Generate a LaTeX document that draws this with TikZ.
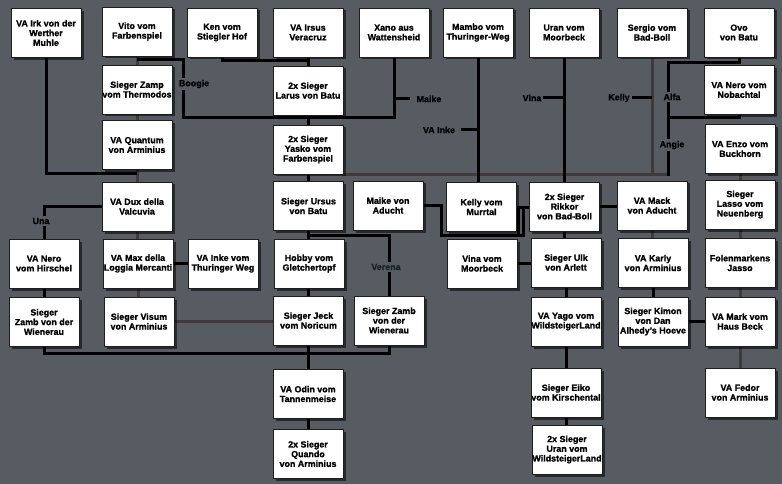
\documentclass[tikz,border=0pt]{standalone}
\usepackage{fontspec}
\setmainfont{Liberation Sans}[BoldFeatures={FakeBold=1.2}]
\usetikzlibrary{shadows}
\definecolor{bgc}{RGB}{87,92,98}
\definecolor{dimc}{RGB}{64,58,58}
\definecolor{boxedge}{RGB}{30,30,30}
\definecolor{verc}{RGB}{28,34,42}
\pgfdeclarelayer{bgl}
\pgfdeclarelayer{lines}
\pgfsetlayers{bgl,lines,main}
\tikzset{
  person/.style={draw=boxedge, line width=0.8pt, fill=white, minimum width=70pt,
    minimum height=49pt, inner sep=0pt, align=center,
    font=\fontsize{8.9}{9.7}\selectfont\bfseries,
    drop shadow={shadow xshift=2.5pt, shadow yshift=-2.5pt, fill=black, opacity=0.55}},
  link/.style={line width=3pt, black},
  dimlink/.style={line width=3pt, dimc},
  lbl/.style={fill=bgc, inner sep=1.5pt, font=\fontsize{8.9}{9.7}\selectfont\bfseries, text=black},
}
\begin{document}
\begin{tikzpicture}[x=1pt,y=-1pt]
\begin{pgfonlayer}{bgl}
\fill[bgc] (0,0) rectangle (782,484);
\end{pgfonlayer}
\useasboundingbox (0,0) rectangle (782,484);
% row 1
\node[person] (irk) at (46,33) {VA Irk von der\\Werther\\Muhle};
\node[person] (vito) at (137,31.5) {Vito vom\\Farbenspiel};
\node[person] (ken) at (222,32.5) {Ken vom\\Stiegler Hof};
\node[person] (irsus) at (308,32.5) {VA Irsus\\Veracruz};
\node[person] (xano) at (394,32.5) {Xano aus\\Wattensheid};
\node[person] (mambo) at (478,32.5) {Mambo vom\\Thuringer-Weg};
\node[person] (uran) at (564,32.5) {Uran vom\\Moorbeck};
\node[person] (sergio) at (652,32.5) {Sergio vom\\Bad-Boll};
\node[person] (ovo) at (739,32.5) {Ovo\\von Batu};
% row 2
\node[person] (zamp) at (137,89.5) {Sieger Zamp\\vom Thermodos};
\node[person] (larus) at (308,90.5) {2x Sieger\\Larus von Batu};
\node[person] (neroN) at (739,90) {VA Nero vom\\Nobachtal};
% row 3
\node[person] (quantum) at (137,145) {VA Quantum\\von Arminius};
\node[person] (yasko) at (308,149.5) {2x Sieger\\Yasko vom\\Farbenspiel};
\node[person] (enzo) at (740,149) {VA Enzo vom\\Buckhorn};
% row 4
\node[person] (dux) at (137,206.5) {VA Dux della\\Valcuvia};
\node[person] (ursus) at (308.5,206) {Sieger Ursus\\von Batu};
\node[person] (maike) at (388,205.5) {Maike von\\Aducht};
\node[person] (kelly) at (481.5,207) {Kelly vom\\Murrtal};
\node[person] (rikkor) at (564.5,206.5) {2x Sieger\\Rikkor\\von Bad-Boll};
\node[person] (mack) at (652,205.5) {VA Mack\\von Aducht};
\node[person] (lasso) at (740,204.5) {Sieger\\Lasso vom\\Neuenberg};
% row 5
\node[person] (neroH) at (44,263.5) {VA Nero\\vom Hirschel};
\node[person] (max) at (138,263.5) {VA Max della\\Loggia Mercanti};
\node[person] (inke) at (223,263.5) {VA Inke vom\\Thuringer Weg};
\node[person] (hobby) at (309,263.5) {Hobby vom\\Gletchertopf};
\node[person] (vina) at (482,263.5) {Vina vom\\Moorbeck};
\node[person] (ulk) at (566,262.5) {Sieger Ulk\\von Arlett};
\node[person] (karly) at (653,263) {VA Karly\\von Arminius};
\node[person] (jasso) at (740,263) {Folenmarkens\\Jasso};
% row 6
\node[person] (zambL) at (44,322) {Sieger\\Zamb von der\\Wienerau};
\node[person] (visum) at (139,321.5) {Sieger Visum\\von Arminius};
\node[person] (jeck) at (308.5,320.5) {Sieger Jeck\\vom Noricum};
\node[person] (zambM) at (389,320.5) {Sieger Zamb\\von der\\Wienerau};
\node[person] (yago) at (566,321.5) {VA Yago vom\\WildsteigerLand};
\node[person] (kimon) at (653,321.5) {Sieger Kimon\\von Dan\\Alhedy's Hoeve};
\node[person] (mark) at (740,321.5) {VA Mark vom\\Haus Beck};
% row 7-8
\node[person] (odin) at (308,394) {VA Odin vom\\Tannenmeise};
\node[person] (eiko) at (566,392.5) {Sieger Eiko\\vom Kirschental};
\node[person] (fedor) at (740,392.5) {VA Fedor\\von Arminius};
\node[person] (quando) at (308,454) {2x Sieger\\Quando\\von Arminius};
\node[person] (uranW) at (567,449.5) {2x Sieger\\Uran vom\\WildsteigerLand};
% junction coordinates
\coordinate (j1) at (137,174);
\coordinate (bg1) at (137,60);
\coordinate (bg2) at (183,118);
\coordinate (mk) at (410,99);
\coordinate (k1) at (308,61);
\coordinate (v1) at (308,235);
\coordinate (b2) at (389,353);
\coordinate (ti) at (461,130);
\coordinate (tv) at (543,98);
\coordinate (tk) at (632,98);
\coordinate (s1) at (652,175);
\coordinate (d1) at (343,175);
\coordinate (d2) at (670,175);
\coordinate (o1) at (668,63);
\coordinate (o2) at (668,176);
\coordinate (o3) at (668,118);
\coordinate (m1) at (441,235);
\coordinate (m2) at (523,235);
\coordinate (m3) at (518,235);
\begin{pgfonlayer}{lines}
% dim lines
\draw[dimlink] (vito.south) -- (zamp.north);
\draw[dimlink] (zamp.south) -- (quantum.north);
\draw[dimlink] (quantum.south) -- (dux.north);
\draw[dimlink] (dux.south) -- (dux.south |- max.north);
\draw[dimlink] (max.south) -- (max.south |- visum.north);
\draw[dimlink] (visum.east) -- (jeck.west |- visum.east);
\draw[dimlink] (sergio.south) -- (s1);
\draw[dimlink] (d1) -- (d2);
\draw[dimlink] (enzo.south) -- (lasso.north);
\draw[dimlink] (lasso.south) -- (jasso.north);
\draw[dimlink] (jasso.south) -- (mark.north);
\draw[dimlink] (mark.south) -- (mark.south |- fedor.north);
\draw[dimlink] (mack.south) -- (mack.south |- karly.north);
% black lines
\draw[link] (irk.south) |- (j1);
\draw[link] (bg1) -| (bg2) -| (xano.south);
\draw[link] (mk) -- (xano.south |- mk);
\draw[link] (ken.south) |- (k1);
\draw[link] (irsus.south) -- (larus.north);
\draw[link] (larus.south) -- (yasko.north);
\draw[link] (yasko.south) -- (yasko.south |- ursus.north);
\draw[link] (v1) -- (v1 |- hobby.north);
\draw[link] (v1 |- ursus.south) -- (v1);
\draw[link] (v1 |- hobby.south) -- (v1 |- jeck.north);
\draw[link] (v1) -| (zambM.north);
\draw[link] (zambL.south) |- (b2) -- (zambM.south);
\draw[link] (v1 |- jeck.south) -- (odin.north);
\draw[link] (odin.south) -- (quando.north);
\draw[link] (dux.west) -| (neroH.north);
\draw[link] (neroH.south) -- (zambL.north);
\draw[link] (max.east) -- (inke.west);
\draw[link] (mambo.south) -- (mambo.south |- kelly.north);
\draw[link] (ti) -- (mambo.south |- ti);
\draw[link] (uran.south) -- (uran.south |- rikkor.north);
\draw[link] (tv) -- (uran.south |- tv);
\draw[link] (tk) -- (sergio.south |- tk);
\draw[link] (ovo.south) |- (o1) -- (o2);
\draw[link] (neroN.south) |- (o3);
\draw[link] (kelly.east) -- (rikkor.west |- kelly.east);
\draw[link] (maike.east) -| (m1) -- (m2) |- (rikkor.west |- kelly.east);
\draw[link] (m3) -- (m3 |- kelly.east);
\draw[link] (rikkor.east) -- (mack.west |- rikkor.east);
\draw[link] (vina.east) -- (ulk.west |- vina.east);
\draw[link] (rikkor.south) -- (rikkor.south |- ulk.north);
\draw[link] (ulk.south) -- (yago.north);
\draw[link] (yago.south) -- (eiko.north);
\draw[link] (eiko.south) -- (eiko.south |- uranW.north);
\draw[link] (karly.south) -- (kimon.north);
\draw[link] (kimon.east) -- (mark.west);
\end{pgfonlayer}
% labels
\node[lbl] (lboogie) at (194,84) {Boogie};
\node[lbl] (lmaike) at (429,99) {Maike};
\node[lbl] (linke) at (439,130) {VA Inke};
\node[lbl] (lvina) at (532,98) {Vina};
\node[lbl] (lkelly) at (619,98) {Kelly};
\node[lbl] (lalfa) at (672,97) {Alfa};
\node[lbl] (langie) at (672,145) {Angie};
\node[lbl] (luna) at (41,221) {Una};
\node[lbl, text=verc] (lverena) at (386,267) {Verena};
\end{tikzpicture}
\end{document}
